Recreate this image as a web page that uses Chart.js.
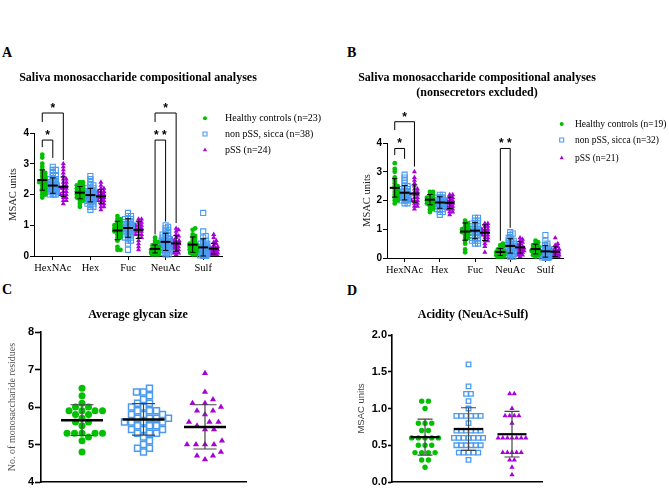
<!DOCTYPE html>
<html>
<head>
<meta charset="utf-8">
<script src="https://cdn.jsdelivr.net/npm/chart.js@4.4.0/dist/chart.umd.min.js"></script>
<style>
html, body { margin: 0; padding: 0; background: #fff; width: 669px; height: 488px; overflow: hidden; position: relative; }
canvas { position: absolute; }
.tag { position: absolute; font: bold 14px 'Liberation Serif', serif; line-height: 14px; color: #000; }
</style>
</head>
<body>
<div class="tag" style="left:2px;top:45.6px">A</div>
<div class="tag" style="left:347px;top:45.6px">B</div>
<div class="tag" style="left:2px;top:283px">C</div>
<div class="tag" style="left:347px;top:283.5px">D</div>
<canvas id="chartA" width="330" height="220" style="left:0;top:60px"></canvas>
<canvas id="chartB" width="339" height="220" style="left:330px;top:60px"></canvas>
<canvas id="chartC" width="330" height="212" style="left:0;top:280px"></canvas>
<canvas id="chartD" width="339" height="212" style="left:330px;top:280px"></canvas>
<script>
const categories = ['HexNAc', 'Hex', 'Fuc', 'NeuAc', 'Sulf'];
const namesA = ['Healthy controls (n=23)', 'non pSS, sicca (n=38)', 'pSS (n=24)'];
const namesB = ['Healthy controls (n=19)', 'non pSS, sicca (n=32)', 'pSS (n=21)'];

// panel A: one list per category (HexNAc, Hex, Fuc, NeuAc, Sulf)
const aHealthy = [
  [3.3,3.2,3.0,2.9,2.8,2.7,2.7,2.6,2.6,2.5,2.5,2.4,2.4,2.4,2.3,2.3,2.2,2.2,2.1,2.1,2.0,2.0,1.9],
  [2.4,2.4,2.3,2.3,2.3,2.2,2.2,2.2,2.1,2.1,2.1,2.1,2.0,2.0,2.0,2.0,1.9,1.9,1.9,1.8,1.8,1.7,1.6],
  [1.3,1.2,1.2,1.1,1.1,1.0,1.0,1.0,0.9,0.9,0.9,0.9,0.8,0.8,0.8,0.7,0.7,0.6,0.6,0.5,0.3,0.2,0.2],
  [0.6,0.5,0.45,0.4,0.35,0.3,0.3,0.25,0.25,0.2,0.2,0.2,0.2,0.15,0.15,0.15,0.1,0.1,0.1,0.1,0.05,0.05,0.05],
  [0.9,0.85,0.7,0.65,0.6,0.55,0.5,0.45,0.4,0.4,0.35,0.3,0.3,0.25,0.25,0.2,0.2,0.15,0.15,0.1,0.1,0.05,0.05]
];
const aSicca = [
  [2.9,2.8,2.8,2.7,2.6,2.6,2.5,2.5,2.5,2.4,2.4,2.4,2.4,2.3,2.3,2.3,2.3,2.3,2.2,2.2,2.2,2.2,2.2,2.2,2.1,2.1,2.1,2.1,2.1,2.1,2.0,2.0,2.0,2.0,2.3,2.2,2.4,2.5],
  [2.6,2.5,2.4,2.3,2.3,2.2,2.2,2.2,2.1,2.1,2.1,2.1,2.0,2.0,2.0,2.0,2.0,2.0,1.9,1.9,1.9,1.9,1.9,1.9,1.8,1.8,1.8,1.8,1.8,1.7,1.7,1.7,1.6,1.6,1.5,2.1,2.0,1.9],
  [1.4,1.3,1.3,1.2,1.2,1.2,1.1,1.1,1.1,1.1,1.0,1.0,1.0,1.0,1.0,0.9,0.9,0.9,0.9,0.9,0.8,0.8,0.8,0.8,0.8,0.7,0.7,0.7,0.7,0.6,0.6,0.6,0.5,0.5,0.4,0.2,1.0,0.9],
  [1.0,0.95,0.9,0.85,0.8,0.75,0.7,0.7,0.65,0.6,0.6,0.55,0.5,0.5,0.5,0.45,0.45,0.4,0.4,0.4,0.35,0.35,0.35,0.3,0.3,0.3,0.25,0.25,0.2,0.2,0.2,0.15,0.15,0.1,0.1,0.05,0.05,0.45],
  [1.4,0.8,0.65,0.6,0.5,0.45,0.4,0.4,0.35,0.35,0.3,0.3,0.3,0.25,0.25,0.25,0.2,0.2,0.2,0.2,0.15,0.15,0.15,0.15,0.1,0.1,0.1,0.1,0.1,0.05,0.05,0.05,0.05,0.02,0.02,0.0,0.0,0.3]
];
const aPss = [
  [3.0,2.9,2.8,2.7,2.6,2.5,2.5,2.4,2.4,2.3,2.3,2.2,2.2,2.2,2.1,2.1,2.0,2.0,2.0,1.9,1.9,1.8,1.8,1.7],
  [2.4,2.3,2.2,2.2,2.1,2.1,2.1,2.0,2.0,2.0,1.9,1.9,1.9,1.9,1.8,1.8,1.8,1.8,1.7,1.7,1.6,1.6,1.5,2.0],
  [1.2,1.2,1.1,1.1,1.0,1.0,1.0,1.0,0.9,0.9,0.9,0.9,0.8,0.8,0.8,0.7,0.7,0.7,0.6,0.6,0.5,0.4,0.3,0.2],
  [0.9,0.85,0.8,0.7,0.65,0.6,0.55,0.5,0.5,0.45,0.45,0.4,0.4,0.35,0.35,0.3,0.3,0.25,0.25,0.2,0.15,0.1,0.1,0.05],
  [0.7,0.6,0.5,0.45,0.4,0.35,0.3,0.3,0.25,0.25,0.2,0.2,0.2,0.15,0.15,0.15,0.1,0.1,0.1,0.1,0.05,0.05,0.05,0.05]
];
const aMeans = [[2.47, 2.06, 0.83, 0.23, 0.37], [2.29, 1.98, 0.91, 0.46, 0.28], [2.25, 1.94, 0.85, 0.41, 0.24]];
const aSds = [[0.33, 0.2, 0.3, 0.13, 0.25], [0.25, 0.22, 0.3, 0.28, 0.28], [0.32, 0.22, 0.28, 0.25, 0.17]];

// panel B: nonsecretors excluded
const bHealthy = [
  [3.3,3.1,3.0,2.8,2.7,2.6,2.5,2.5,2.4,2.4,2.3,2.3,2.2,2.2,2.1,2.1,2.0,2.0,1.9],
  [2.3,2.3,2.2,2.2,2.1,2.1,2.1,2.0,2.0,2.0,2.0,1.9,1.9,1.9,1.8,1.8,1.7,1.7,1.6],
  [1.3,1.2,1.2,1.1,1.1,1.0,1.0,1.0,0.9,0.9,0.9,0.8,0.8,0.7,0.7,0.6,0.5,0.3,0.2],
  [0.5,0.45,0.4,0.35,0.3,0.25,0.25,0.2,0.2,0.15,0.15,0.15,0.1,0.1,0.1,0.1,0.05,0.05,0.05],
  [0.6,0.55,0.5,0.45,0.4,0.4,0.35,0.3,0.3,0.25,0.25,0.2,0.2,0.2,0.15,0.15,0.1,0.1,0.05]
];
const bSicca = [
  [2.9,2.8,2.7,2.6,2.5,2.5,2.4,2.4,2.4,2.3,2.3,2.3,2.3,2.3,2.2,2.2,2.2,2.2,2.2,2.2,2.1,2.1,2.1,2.1,2.1,2.0,2.0,2.0,2.0,1.9,1.9,2.2],
  [2.2,2.2,2.1,2.1,2.1,2.0,2.0,2.0,2.0,2.0,1.9,1.9,1.9,1.9,1.9,1.9,1.8,1.8,1.8,1.8,1.8,1.7,1.7,1.7,1.6,1.6,1.5,2.0,1.9,1.8,2.1,1.9],
  [1.4,1.4,1.3,1.3,1.2,1.2,1.2,1.1,1.1,1.1,1.0,1.0,1.0,1.0,0.9,0.9,0.9,0.9,0.8,0.8,0.8,0.8,0.7,0.7,0.7,0.6,0.6,0.6,0.5,0.5,1.0,0.9],
  [0.9,0.85,0.8,0.7,0.65,0.6,0.6,0.55,0.5,0.5,0.45,0.45,0.4,0.4,0.4,0.35,0.35,0.3,0.3,0.3,0.25,0.25,0.2,0.2,0.2,0.15,0.15,0.1,0.1,0.05,0.05,0.4],
  [0.8,0.6,0.5,0.45,0.4,0.35,0.3,0.3,0.3,0.25,0.25,0.2,0.2,0.2,0.2,0.15,0.15,0.15,0.15,0.1,0.1,0.1,0.1,0.05,0.05,0.05,0.05,0.02,0.02,0.0,0.0,0.2]
];
const bPss = [
  [3.0,2.8,2.7,2.6,2.5,2.4,2.4,2.3,2.3,2.2,2.2,2.1,2.1,2.0,2.0,2.0,1.9,1.9,1.8,1.8,1.7],
  [2.2,2.2,2.1,2.1,2.0,2.0,2.0,1.9,1.9,1.9,1.8,1.8,1.8,1.8,1.7,1.7,1.7,1.6,1.6,1.5,2.0],
  [1.2,1.2,1.1,1.1,1.0,1.0,1.0,0.9,0.9,0.9,0.9,0.8,0.8,0.8,0.7,0.7,0.6,0.6,0.5,0.4,0.2],
  [0.7,0.65,0.6,0.55,0.5,0.45,0.4,0.4,0.35,0.35,0.3,0.3,0.3,0.25,0.25,0.2,0.2,0.15,0.1,0.1,0.05],
  [0.7,0.5,0.45,0.4,0.35,0.3,0.3,0.25,0.25,0.2,0.2,0.2,0.15,0.15,0.1,0.1,0.1,0.05,0.05,0.05,0.05]
];
const bMeans = [[2.44, 2.03, 0.92, 0.21, 0.31], [2.27, 1.93, 0.95, 0.42, 0.23], [2.24, 1.92, 0.88, 0.37, 0.22]];
const bSds = [[0.32, 0.18, 0.3, 0.12, 0.17], [0.25, 0.2, 0.28, 0.25, 0.2], [0.3, 0.2, 0.27, 0.2, 0.17]];

// panel C: average glycan size
const cHealthy = [6.5,6.3,6.1,6.0,6.0,5.9,5.9,5.9,5.9,5.8,5.8,5.7,5.6,5.6,5.5,5.3,5.3,5.3,5.3,5.3,5.2,5.1,4.8];
const cSicca = [6.5,6.4,6.4,6.3,6.2,6.1,6.1,6.0,6.0,5.9,5.9,5.9,5.8,5.8,5.8,5.7,5.7,5.7,5.7,5.6,5.6,5.6,5.5,5.5,5.5,5.4,5.4,5.4,5.3,5.3,5.3,5.2,5.1,5.0,4.9,4.9,4.8,5.6];
const cPss = [6.9,6.4,6.2,6.1,6.1,6.0,5.9,5.9,5.8,5.6,5.6,5.6,5.5,5.4,5.4,5.1,5.0,5.0,5.0,5.0,4.8,4.7,4.7,4.6];
const cMeans = [5.65, 5.67, 5.47];
const cSds = [0.41, 0.42, 0.59];

// panel D: acidity (NeuAc+Sulf)
const dHealthy = [1.1,1.1,1.0,0.8,0.8,0.8,0.7,0.7,0.6,0.6,0.6,0.6,0.6,0.5,0.5,0.5,0.4,0.4,0.4,0.4,0.3,0.3,0.2];
const dSicca = [1.6,1.3,1.2,1.2,1.1,1.0,0.9,0.9,0.9,0.9,0.9,0.9,0.8,0.7,0.7,0.7,0.7,0.7,0.7,0.6,0.6,0.6,0.6,0.6,0.6,0.6,0.5,0.5,0.5,0.5,0.5,0.5,0.4,0.4,0.4,0.4,0.4,0.3];
const dPss = [1.2,1.2,1.0,0.9,0.9,0.9,0.9,0.8,0.6,0.6,0.6,0.6,0.6,0.6,0.6,0.4,0.4,0.4,0.4,0.4,0.3,0.3,0.2,0.1];
const dMeans = [0.61, 0.72, 0.65];
const dSds = [0.245, 0.29, 0.31];

const SERIF = "'Liberation Serif', 'Times New Roman', serif";
const SANS = "'Liberation Sans', Arial, sans-serif";
const COLORS = ['#00c000', '#4a9bf0', '#a800d8'];
const MARKS = ['circle', 'rect', 'triangle'];
const SHIFT = [-0.28, 0, 0.28];

Chart.defaults.font.family = SERIF;

// equal values side by side, centred on the column
function rows(values, step) {
  const count = {}, seen = {};
  values.forEach(v => { const k = Math.round(v * 10); count[k] = (count[k] || 0) + 1; });
  return values.map(v => {
    const k = Math.round(v * 10);
    seen[k] = seen[k] === undefined ? 0 : seen[k] + 1;
    return (seen[k] - (count[k] - 1) / 2) * step;
  });
}

// beeswarm: nearest free spot beside the column centre, kept within maxHalf px
function swarm(values, pxY, pxX, diam, maxHalf) {
  const order = values.map((v, i) => i).sort((a, b) => values[a] - values[b]);
  const placed = [], out = new Array(values.length);
  const limit = Math.floor(maxHalf / 0.5) * 2;
  order.forEach(i => {
    const y = values[i] * pxY;
    let best = null, fallback = 0, fallbackGap = -1;
    for (let k = 0; k <= limit; k++) {
      const dx = (k % 2 ? 1 : -1) * Math.ceil(k / 2) * 0.5;
      let gap = Infinity;
      placed.forEach(p => { gap = Math.min(gap, Math.hypot(p.x - dx, p.y - y)); });
      if (gap >= diam) { best = dx; break; }
      if (gap > fallbackGap + 0.01) { fallbackGap = gap; fallback = dx; }
    }
    if (best === null) best = fallback;
    placed.push({x: best, y});
    out[i] = best / pxX;
  });
  return out;
}

function catPoints(lists, shift, pxY, pxX, diam, maxHalf) {
  const pts = [];
  lists.forEach((vals, c) => {
    swarm(vals, pxY, pxX, diam, maxHalf).forEach((dx, i) => pts.push({x: c + shift + dx, y: vals[i]}));
  });
  return pts;
}

function summaryPlugin(cfg) {
  return {
    id: 'summary',
    afterDatasetsDraw(chart) {
      const {ctx} = chart, x = chart.scales.x, y = chart.scales.y;
      ctx.save();
      cfg.means.forEach((row, g) => row.forEach((m, c) => {
        const cx = x.getPixelForValue(cfg.xOf(g, c));
        const sd = cfg.sds[g][c];
        const yt = y.getPixelForValue(m + sd), yb = y.getPixelForValue(Math.max(m - sd, y.min));
        const ym = y.getPixelForValue(m);
        ctx.strokeStyle = cfg.barColor; ctx.lineWidth = cfg.barWidth;
        ctx.beginPath();
        ctx.moveTo(cx, yt); ctx.lineTo(cx, yb);
        ctx.moveTo(cx - cfg.cap, yt); ctx.lineTo(cx + cfg.cap, yt);
        ctx.moveTo(cx - cfg.cap, yb); ctx.lineTo(cx + cfg.cap, yb);
        ctx.stroke();
        ctx.strokeStyle = '#000'; ctx.lineWidth = cfg.meanWidth;
        ctx.beginPath();
        ctx.moveTo(cx - cfg.half, ym); ctx.lineTo(cx + cfg.half, ym);
        ctx.stroke();
      }));
      ctx.restore();
    }
  };
}

function bracketPlugin(items) {
  return {
    id: 'brackets',
    afterDraw(chart) {
      const {ctx} = chart, x = chart.scales.x, y = chart.scales.y;
      ctx.save();
      ctx.strokeStyle = '#000'; ctx.lineWidth = 1;
      ctx.fillStyle = '#000';
      ctx.font = 'bold 12px ' + SANS;
      ctx.textAlign = 'center'; ctx.textBaseline = 'alphabetic';
      items.forEach(b => {
        const x1 = x.getPixelForValue(b.cat + SHIFT[b.from]);
        const x2 = x.getPixelForValue(b.cat + SHIFT[b.to]);
        const yt = y.getPixelForValue(b.top);
        ctx.beginPath();
        ctx.moveTo(x1, y.getPixelForValue(b.left));
        ctx.lineTo(x1, yt); ctx.lineTo(x2, yt);
        ctx.lineTo(x2, y.getPixelForValue(b.right));
        ctx.stroke();
        ctx.fillText(b.label, (x1 + x2) / 2, yt - 1);
      });
      ctx.restore();
    }
  };
}

function keyPlugin(key) {
  return {
    id: 'key',
    afterDraw(chart) {
      const {ctx} = chart;
      ctx.save();
      ctx.font = key.size + 'px ' + SERIF;
      ctx.textBaseline = 'middle'; ctx.textAlign = 'left';
      key.names.forEach((name, g) => {
        ctx.fillStyle = g === 1 ? 'rgba(0,0,0,0)' : COLORS[g];
        ctx.strokeStyle = COLORS[g];
        Chart.helpers.drawPoint(ctx, {pointStyle: MARKS[g], radius: key.r[g], rotation: 0, borderWidth: g === 1 ? 1 : 0}, key.x, key.ys[g]);
        ctx.fillStyle = '#000';
        ctx.fillText(name, key.tx, key.ys[g] + 0.5);
      });
      ctx.restore();
    }
  };
}

function datasetsFrom(pointsByGroup, radius, sqWidth) {
  return pointsByGroup.map((pts, g) => ({
    data: pts,
    pointStyle: MARKS[g],
    pointRadius: radius[g],
    backgroundColor: g === 1 ? 'rgba(0,0,0,0)' : COLORS[g],
    borderColor: COLORS[g],
    borderWidth: g === 1 ? sqWidth : 0,
    showLine: false,
    clip: false
  }));
}

function makeChart(p) {
  const xScale = {
    type: 'linear', min: p.xMin, max: p.xMax,
    afterFit: s => { s.height = p.xH; },
    border: {display: true, color: '#000', width: p.axisW}
  };
  if (p.cats) {
    xScale.afterBuildTicks = s => { s.ticks = p.cats.map((c, i) => ({value: i})); };
    xScale.ticks = {callback: v => p.cats[v], font: {family: SERIF, size: 10.5}, color: '#000', padding: 2, autoSkip: false, maxRotation: 0};
    xScale.grid = {display: true, drawOnChartArea: false, drawTicks: true, tickLength: 4, tickColor: '#000', tickWidth: 1};
  } else {
    xScale.afterBuildTicks = s => { s.ticks = []; };
    xScale.ticks = {display: false};
    xScale.grid = {display: false};
  }
  return new Chart(document.getElementById(p.id), {
    type: 'scatter',
    data: {datasets: p.datasets},
    options: {
      responsive: false,
      animation: false,
      events: [],
      layout: {padding: {left: 0, right: p.padR, top: 0, bottom: 0}, autoPadding: false},
      plugins: {
        legend: {display: false},
        tooltip: {enabled: false},
        title: {
          display: true, text: p.title, color: '#000',
          font: {family: SERIF, size: 12, weight: 'bold', lineHeight: p.titleLH},
          padding: {top: p.titleTop, bottom: p.titleBottom}
        }
      },
      scales: {
        x: xScale,
        y: {
          type: 'linear', min: p.yMin, max: p.yMax,
          afterFit: s => { s.width = p.yW; },
          ticks: {stepSize: p.yStep, callback: p.yFmt, font: {family: SANS, size: p.tickSize, weight: 'bold'}, color: '#000', padding: 1},
          grid: {display: true, drawOnChartArea: false, drawTicks: true, tickLength: p.tickLen, tickColor: '#000', tickWidth: p.axisW},
          border: {display: true, color: '#000', width: p.axisW},
          title: {display: true, text: p.yTitle, color: p.yTitleColor, font: p.yTitleFont, padding: {top: p.yTitlePad, bottom: 0}}
        },
        pad: {
          type: 'linear', axis: 'y', position: 'right',
          afterFit: s => { s.width = p.dummyW; },
          ticks: {display: false}, grid: {display: false}, border: {display: false}
        }
      }
    },
    plugins: p.plugins
  });
}

// ---- A ----
makeChart({
  id: 'chartA',
  datasets: datasetsFrom([aHealthy, aSicca, aPss].map((lists, g) => catPoints(lists, SHIFT[g], 30.75, 37.6, 2.6, 4)), [2.4, 3.6, 2.9], 1.1),
  cats: categories, xMin: -0.5, xMax: 4.5, xH: 24,
  yMin: 0, yMax: 4, yStep: 1, yFmt: v => v, tickSize: 10, tickLen: 4, axisW: 1,
  yW: 34, padR: 54, dummyW: 54,
  title: 'Saliva monosaccharide compositional analyses', titleLH: 1.2, titleTop: 11.1, titleBottom: 47.5,
  yTitle: 'MSAC units', yTitleColor: '#222', yTitleFont: {family: SERIF, size: 10.5}, yTitlePad: 6.7,
  plugins: [
    summaryPlugin({means: aMeans, sds: aSds, xOf: (g, c) => c + SHIFT[g], barColor: '#000', barWidth: 1, cap: 2.8, half: 5, meanWidth: 2}),
    bracketPlugin([
      {cat: 0, from: 0, to: 2, top: 4.65, left: 4.36, right: 3.12, label: '*'},
      {cat: 0, from: 0, to: 1, top: 3.77, left: 3.54, right: 3.19, label: '*'},
      {cat: 3, from: 0, to: 2, top: 4.65, left: 4.36, right: 1.07, label: '*'},
      {cat: 3, from: 0, to: 1, top: 3.77, left: 0.7, right: 1.12, label: '* *'}
    ]),
    keyPlugin({names: namesA, x: 205, tx: 225, ys: [58.3, 74, 90], r: [2, 2.8, 2.4], size: 10})
  ]
});

// ---- B ----
makeChart({
  id: 'chartB',
  datasets: datasetsFrom([bHealthy, bSicca, bPss].map((lists, g) => catPoints(lists, SHIFT[g], 28.9, 35.2, 2.6, 4)), [2.4, 3.6, 2.9], 1.1),
  cats: categories, xMin: -0.5, xMax: 4.5, xH: 22,
  yMin: 0, yMax: 4, yStep: 1, yFmt: v => v, tickSize: 10, tickLen: 4, axisW: 1,
  yW: 57, padR: 45, dummyW: 61,
  title: ['Saliva monosaccharide compositional analyses', '(nonsecretors excluded)'], titleLH: 1.25, titleTop: 10.5, titleBottom: 42.5,
  yTitle: 'MSAC units', yTitleColor: '#222', yTitleFont: {family: SERIF, size: 10.5}, yTitlePad: 30.7,
  plugins: [
    summaryPlugin({means: bMeans, sds: bSds, xOf: (g, c) => c + SHIFT[g], barColor: '#000', barWidth: 1, cap: 2.8, half: 5, meanWidth: 2}),
    bracketPlugin([
      {cat: 0, from: 0, to: 2, top: 4.74, left: 4.45, right: 3.18, label: '*'},
      {cat: 0, from: 0, to: 1, top: 3.81, left: 3.58, right: 3.45, label: '*'},
      {cat: 3, from: 0, to: 1, top: 3.81, left: 0.6, right: 1.05, label: '* *'}
    ]),
    keyPlugin({names: namesB, x: 231.7, tx: 245, ys: [64, 80, 98], r: [2, 2.8, 2.4], size: 9.5})
  ]
});

// ---- C ----
makeChart({
  id: 'chartC',
  datasets: datasetsFrom([cHealthy, cSicca, cPss].map((vals, g) => {
    const diam = [7.2, 6.8, 8.6][g];
    return swarm(vals, 37.5, 61.5, diam, 30).map((dx, i) => ({x: g + dx, y: vals[i]}));
  }), [3.5, 4.2, 3.6], 1.5),
  cats: null, xMin: -0.667, xMax: 2.667, xH: 10,
  yMin: 4, yMax: 8, yStep: 1, yFmt: v => v, tickSize: 11, tickLen: 6, axisW: 1.6,
  yW: 41, padR: 54, dummyW: 30,
  title: 'Average glycan size', titleLH: 1.2, titleTop: 27.8, titleBottom: 9.8,
  yTitle: 'No. of monosaccharide residues', yTitleColor: '#555', yTitleFont: {family: SERIF, size: 10}, yTitlePad: 6,
  plugins: [
    summaryPlugin({means: cMeans.map(m => [m]), sds: cSds.map(s => [s]), xOf: (g, c) => g + c, barColor: '#444', barWidth: 1.2, cap: 11.5, half: 21, meanWidth: 2.5})
  ]
});

// ---- D ----
makeChart({
  id: 'chartD',
  datasets: datasetsFrom([dHealthy, dSicca, dPss].map((vals, g) => {
    const step = [0.154, 0.112, 0.106][g];
    return rows(vals, step).map((dx, i) => ({x: g + dx, y: vals[i]}));
  }), [2.7, 3.2, 3], 1.3),
  cats: null, xMin: -0.76, xMax: 2.69, xH: 10,
  yMin: 0, yMax: 2, yStep: 0.5, yFmt: v => v.toFixed(1), tickSize: 11, tickLen: 4, axisW: 1.6,
  yW: 62, padR: 53, dummyW: 74,
  title: 'Acidity (NeuAc+Sulf)', titleLH: 1.2, titleTop: 27.8, titleBottom: 12.8,
  yTitle: 'MSAC units', yTitleColor: '#444', yTitleFont: {family: SANS, size: 9.5}, yTitlePad: 26,
  plugins: [
    summaryPlugin({means: dMeans.map(m => [m]), sds: dSds.map(s => [s]), xOf: (g, c) => g + c, barColor: '#444', barWidth: 1.2, cap: 7.5, half: 14.5, meanWidth: 2.2})
  ]
});
</script>
</body>
</html>
